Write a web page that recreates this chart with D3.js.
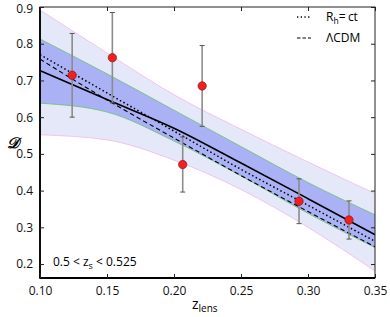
<!DOCTYPE html>
<html lang="en">
<head>
<meta charset="UTF-8">
<title>D vs z_lens</title>
<script src="https://cdn.jsdelivr.net/npm/d3@7"></script>
<style>
  body { margin: 0; background: #fff; }
  text { font-family: "Open Sans", "Liberation Sans", sans-serif; }
</style>
</head>
<body>
<script>
    var zGrid = [0.10, 0.15, 0.20, 0.25, 0.30, 0.35];
    var outerUpper = [0.892, 0.775, 0.661, 0.567, 0.478, 0.392];
    var outerLower = [0.552, 0.538, 0.483, 0.403, 0.300, 0.181];
    var innerUpper = [0.813, 0.718, 0.619, 0.520, 0.422, 0.334];
    var innerLower = [0.638, 0.614, 0.535, 0.440, 0.338, 0.245];
    var fitLine = [0.727, 0.648, 0.570, 0.475, 0.378, 0.280];
    var rhctLine = [0.770, 0.666, 0.562, 0.458, 0.360, 0.262];
    var lcdmLine = [0.758, 0.647, 0.543, 0.441, 0.343, 0.247];

    // lens data
    var zLens = [0.124, 0.154, 0.2065, 0.221, 0.2933, 0.3306];
    var dVals = [0.714, 0.762, 0.471, 0.685, 0.371, 0.320];
    var dErr = [0.114, 0.123, 0.075, 0.110, 0.061, 0.052];

    var xTicks = [0.10, 0.15, 0.20, 0.25, 0.30, 0.35];
    var yTicks = [0.2, 0.3, 0.4, 0.5, 0.6, 0.7, 0.8, 0.9];

    var width = 390, height = 317;
    var pLeft = 40, pRight = 375, pTop = 7, pBottom = 278;

    var svg = d3.select("body").append("svg")
            .attr("width", width)
            .attr("height", height);

    var x = d3.scaleLinear().domain([0.10, 0.35]).range([pLeft, pRight]);
    var y = d3.scaleLinear().domain([0.162, 0.9]).range([pBottom, pTop]);

    svg.append("clipPath").attr("id", "clip")
            .append("rect")
            .attr("x", pLeft).attr("y", pTop)
            .attr("width", pRight - pLeft).attr("height", pBottom - pTop);

    var plot = svg.append("g").attr("clip-path", "url(#clip)");

    function area(up, lo) {
        return d3.area()
                .x(function (d, i) { return x(zGrid[i]); })
                .y0(function (d, i) { return y(lo[i]); })
                .y1(function (d, i) { return y(up[i]); })
                .curve(d3.curveMonotoneX)(zGrid);
    }
    function line(vals) {
        return d3.line()
                .x(function (d, i) { return x(zGrid[i]); })
                .y(function (d, i) { return y(vals[i]); })
                .curve(d3.curveMonotoneX)(zGrid);
    }

    // bands
    plot.append("path").attr("d", area(outerUpper, outerLower)).attr("fill", "#e5e8f8");
    plot.append("path").attr("d", area(innerUpper, innerLower)).attr("fill", "#aab1f4");
    [outerUpper, outerLower].forEach(function (v) {
        plot.append("path").attr("d", line(v)).attr("fill", "none")
                .attr("stroke", "#f2b8e6").attr("stroke-width", 0.8);
    });
    [innerUpper, innerLower].forEach(function (v) {
        plot.append("path").attr("d", line(v)).attr("fill", "none")
                .attr("stroke", "#6cbf78").attr("stroke-width", 0.8);
    });

    // model curves
    plot.append("path").attr("d", line(lcdmLine)).attr("fill", "none")
            .attr("stroke", "#000").attr("stroke-width", 1.1)
            .attr("stroke-dasharray", "4.5,3");
    plot.append("path").attr("d", line(rhctLine)).attr("fill", "none")
            .attr("stroke", "#000").attr("stroke-width", 1.5)
            .attr("stroke-dasharray", "1.5,2.5");
    plot.append("path").attr("d", line(fitLine)).attr("fill", "none")
            .attr("stroke", "#000").attr("stroke-width", 1.6);

    // error bars
    var pts = zLens.map(function (z, i) { return {z: z, d: dVals[i], e: dErr[i]}; });
    var eb = plot.selectAll(".eb").data(pts).enter().append("g");
    eb.append("line")
            .attr("x1", function (d) { return x(d.z); })
            .attr("x2", function (d) { return x(d.z); })
            .attr("y1", function (d) { return y(d.d - d.e); })
            .attr("y2", function (d) { return y(d.d + d.e); })
            .attr("stroke", "#8c8c8c").attr("stroke-width", 1.6);
    [-1, 1].forEach(function (s) {
        eb.append("line")
                .attr("x1", function (d) { return x(d.z) - 2.5; })
                .attr("x2", function (d) { return x(d.z) + 2.5; })
                .attr("y1", function (d) { return y(d.d + s * d.e); })
                .attr("y2", function (d) { return y(d.d + s * d.e); })
                .attr("stroke", "#555").attr("stroke-width", 1);
    });
    eb.append("circle")
            .attr("cx", function (d) { return x(d.z); })
            .attr("cy", function (d) { return y(d.d); })
            .attr("r", 4.2)
            .attr("fill", "#f02020")
            .attr("stroke", "#7a1010").attr("stroke-width", 0.6);

    // frame
    svg.append("rect").attr("x", pLeft).attr("y", pTop)
            .attr("width", pRight - pLeft).attr("height", pBottom - pTop)
            .attr("fill", "none").attr("stroke", "#222").attr("stroke-width", 1);
    svg.append("line").attr("x1", pLeft).attr("x2", pLeft).attr("y1", pTop).attr("y2", pBottom + 0.8)
            .attr("stroke", "#000").attr("stroke-width", 1.8);
    svg.append("line").attr("x1", pLeft).attr("x2", pRight).attr("y1", pBottom).attr("y2", pBottom)
            .attr("stroke", "#000").attr("stroke-width", 1.8);

    // axes with inward ticks
    var fx = d3.format(".2f"), fy = d3.format(".1f");
    var xb = svg.append("g").attr("transform", "translate(0," + pBottom + ")")
            .call(d3.axisBottom(x).tickValues(xTicks).tickFormat(fx).tickSizeInner(-4).tickSizeOuter(0).tickPadding(8));
    var xt = svg.append("g").attr("transform", "translate(0," + pTop + ")")
            .call(d3.axisTop(x).tickValues(xTicks).tickFormat("").tickSizeInner(-4).tickSizeOuter(0));
    var yl = svg.append("g").attr("transform", "translate(" + pLeft + ",0)")
            .call(d3.axisLeft(y).tickValues(yTicks).tickFormat(fy).tickSizeInner(-4).tickSizeOuter(0).tickPadding(7));
    var yr = svg.append("g").attr("transform", "translate(" + pRight + ",0)")
            .call(d3.axisRight(y).tickValues(yTicks).tickFormat("").tickSizeInner(-4).tickSizeOuter(0));
    [xb, xt, yl, yr].forEach(function (g) {
        g.select(".domain").remove();
        g.selectAll(".tick line").attr("stroke", "#222");
        g.selectAll("text").attr("font-size", 12).attr("fill", "#111")
                .style("font-family", "'Open Sans', sans-serif");
    });
    // keep the top label inside the picture
    yl.selectAll(".tick text").filter(function (d) { return d === 0.9; }).attr("dy", "0.42em");

    // axis titles
    svg.append("text").attr("x", 13).attr("y", 148)
            .attr("text-anchor", "middle")
            .attr("font-size", 15)
            .style("font-family", "'DejaVu Serif', serif")
            .style("font-style", "italic").style("font-weight", "bold")
            .text("𝒟");
    var xl = svg.append("text").attr("x", 192).attr("y", 309).attr("font-size", 14);
    xl.append("tspan").text("z");
    xl.append("tspan").attr("dy", 3).attr("font-size", 10).text("lens");

    // annotation
    var an = svg.append("text").attr("x", 53).attr("y", 266).attr("font-size", 12);
    an.append("tspan").text("0.5 < z");
    an.append("tspan").attr("dy", 3).attr("font-size", 9).text("s");
    an.append("tspan").attr("dy", -3).text(" < 0.525");

    // legend
    var leg = svg.append("g");
    leg.append("line").attr("x1", 297).attr("x2", 311).attr("y1", 17).attr("y2", 17)
            .attr("stroke", "#000").attr("stroke-width", 1.3).attr("stroke-dasharray", "1.3,2.4");
    leg.append("line").attr("x1", 297).attr("x2", 311).attr("y1", 38).attr("y2", 38)
            .attr("stroke", "#000").attr("stroke-width", 1).attr("stroke-dasharray", "3.5,2");
    var l1 = leg.append("text").attr("x", 326).attr("y", 21).attr("font-size", 12);
    l1.append("tspan").text("R");
    l1.append("tspan").attr("dy", 3).attr("font-size", 8.5).text("h");
    l1.append("tspan").attr("dy", -3).attr("letter-spacing", -0.3).text("= ct");
    leg.append("text").attr("x", 326).attr("y", 42).attr("font-size", 12).text("ΛCDM");
</script>
</body>
</html>
